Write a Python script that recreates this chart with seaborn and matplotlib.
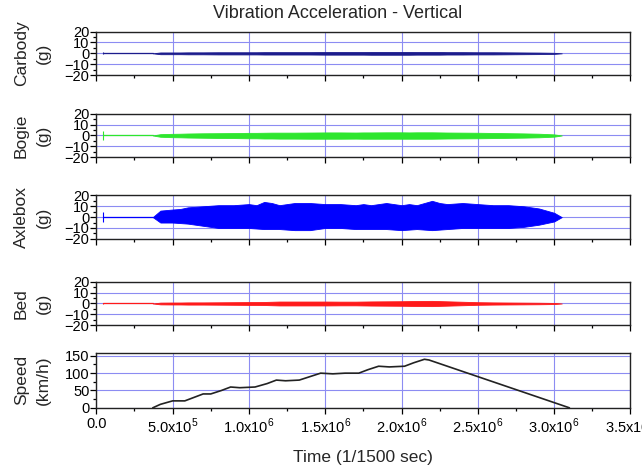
import numpy as np
import pandas as pd
import seaborn as sns
import matplotlib.pyplot as plt
from matplotlib.ticker import FuncFormatter, MultipleLocator

# envelope sample times (samples, 1/1500 s)
env_t = [3.7e5, 4.2e5, 5.0e5, 5.5e5, 6.0e5, 7.0e5, 8.0e5, 9.0e5, 1.0e6, 1.05e6,
         1.1e6, 1.15e6, 1.2e6, 1.3e6, 1.4e6, 1.5e6, 1.6e6, 1.7e6, 1.75e6, 1.8e6,
         1.9e6, 2.0e6, 2.05e6, 2.1e6, 2.2e6, 2.25e6, 2.3e6, 2.4e6, 2.5e6, 2.6e6,
         2.7e6, 2.8e6, 2.9e6, 3.0e6, 3.05e6]

# peak envelopes (g)
carbody_hi = [0, 0.8, 0.8, 0.8, 0.9, 0.9, 1.0, 1.0, 1.0, 1.0, 1.1, 1.1, 1.1, 1.1, 1.1,
              1.2, 1.2, 1.2, 1.2, 1.3, 1.3, 1.3, 1.3, 1.2, 1.2, 1.2, 1.1, 1.1, 1.0, 1.0,
              0.9, 0.8, 0.7, 0.5, 0]
carbody_lo = [-v for v in carbody_hi]

bogie_hi = [0, 1.2, 1.5, 1.6, 1.8, 2.0, 2.1, 2.2, 2.4, 2.4, 2.5, 2.6, 2.6, 2.6, 2.7,
            2.8, 2.8, 2.7, 2.8, 2.8, 2.9, 2.9, 2.8, 2.9, 2.9, 2.8, 2.7, 2.6, 2.5, 2.3,
            2.1, 1.9, 1.6, 1.0, 0]
bogie_lo = [0, -1.2, -1.6, -1.7, -1.9, -2.1, -2.3, -2.4, -2.6, -2.6, -2.8, -2.8, -2.9,
            -2.9, -3.0, -3.0, -3.0, -2.9, -3.0, -3.0, -3.0, -3.0, -3.0, -3.0, -3.0, -2.9,
            -2.8, -2.7, -2.6, -2.4, -2.2, -2.0, -1.7, -1.1, 0]

axlebox_hi = [0, 6, 7, 7.5, 9, 10, 11, 11, 12, 11, 14, 13, 11, 13, 13, 12, 12, 11, 12,
              11, 13, 11, 12, 11, 15, 13, 12, 13, 12, 11, 11, 10, 8, 4, 0]
axlebox_lo = [0, -5, -5, -5.5, -6, -8, -10, -10, -10, -10.5, -11, -11, -11, -12, -12,
              -10, -10, -11, -11, -11, -11, -12, -11.5, -11, -12, -11.5, -11, -10, -10,
              -10, -10, -9, -7, -4, 0]

bed_hi = [0, 0.8, 0.9, 0.9, 1.0, 1.0, 1.1, 1.2, 1.3, 1.3, 1.4, 1.6, 1.8, 1.8, 1.8,
          1.8, 1.7, 1.7, 1.8, 1.9, 2.0, 2.1, 2.2, 2.3, 2.4, 2.2, 2.0, 1.6, 1.2, 1.0,
          0.9, 0.8, 0.7, 0.5, 0]
bed_lo = [-v for v in bed_hi]

# quiet lead-in before the run, with the short spike
idle_t = [4.6e4, 3.7e5]
spike_t = 4.6e4
spike_size = {"Carbody": 0.8, "Bogie": 4.0, "Axlebox": 4.5, "Bed": 0.8}

speed_t = [3.7e5, 4.2e5, 5.0e5, 5.8e5, 6.4e5, 7.0e5, 7.5e5, 8.2e5, 8.8e5, 9.4e5,
           1.04e6, 1.12e6, 1.18e6, 1.24e6, 1.33e6, 1.40e6, 1.47e6, 1.55e6, 1.63e6,
           1.72e6, 1.78e6, 1.85e6, 1.92e6, 2.02e6, 2.08e6, 2.15e6, 2.18e6, 3.10e6]
speed_v = [0, 10, 20, 20, 30, 40, 40, 50, 60, 58, 60, 70, 80, 78, 80, 90, 100, 98,
           100, 100, 110, 120, 118, 120, 130, 140, 138, 0]

panels = [
    ("Carbody\n(g)", carbody_hi, carbody_lo, "#1c1c8c"),
    ("Bogie\n(g)", bogie_hi, bogie_lo, "#2ee62e"),
    ("Axlebox\n(g)", axlebox_hi, axlebox_lo, "#0000ff"),
    ("Bed\n(g)", bed_hi, bed_lo, "#ff1a1a"),
]

sns.set_theme(style="ticks")
plt.rcParams["font.family"] = ["Liberation Sans", "DejaVu Sans"]
plt.rcParams["mathtext.fontset"] = "custom"
plt.rcParams["mathtext.rm"] = "Liberation Sans"

grid_color = "#8c8cf2"
label_x = -0.085


def sci_fmt(v, pos):
    if v == 0:
        return "0.0"
    e = int(np.floor(np.log10(abs(v)) + 1e-9))
    m = v / 10 ** e
    return r"%.1fx10$^{%d}$" % (m, e)


def style_axis(ax):
    ax.set_xlim(0, 3.5e6)
    ax.xaxis.set_major_locator(MultipleLocator(5e5))
    ax.xaxis.set_minor_locator(MultipleLocator(2.5e5))
    ax.grid(True, which="major", color=grid_color, linewidth=0.8)
    ax.tick_params(which="both", direction="out", colors="black", labelsize=10.5,
                   top=False, right=False)
    ax.tick_params(which="major", length=4, width=0.9)
    ax.tick_params(which="minor", length=2.5, width=0.9)
    ax.tick_params(axis="y", pad=1)
    for s in ax.spines.values():
        s.set_linewidth(1.0)
        s.set_color("#222222")
    ax.set_axisbelow(True)


fig = plt.figure(figsize=(6.42, 4.72), dpi=100)
left, width = 0.150, 0.832
bottoms = [0.841, 0.667, 0.494, 0.311]
height = 0.092

for (label, hi, lo, color), b in zip(panels, bottoms):
    ax = fig.add_axes([left, b, width, height])
    name = label.split("\n")[0]
    ax.fill_between(env_t, lo, hi, color=color, linewidth=0.6, edgecolor=color)
    ax.plot(idle_t, [0, 0], color=color, linewidth=0.9)
    ax.vlines(spike_t, -spike_size[name], spike_size[name], color=color, linewidth=0.8)
    ax.set_ylim(-20, 20)
    ax.yaxis.set_major_locator(MultipleLocator(10))
    ax.yaxis.set_minor_locator(MultipleLocator(5))
    style_axis(ax)
    ax.set_xticklabels([])
    ax.set_ylabel(label, fontsize=12.5, linespacing=1.6)
    ax.yaxis.set_label_coords(label_x, 0.5)

fig.text(338 / 642, 1 - 13 / 472, "Vibration Acceleration - Vertical",
         ha="center", va="center", fontsize=13)

ax = fig.add_axes([left, 0.136, width, 0.116])
speed = pd.DataFrame({"t": speed_t, "v": speed_v})
sns.lineplot(data=speed, x="t", y="v", ax=ax, color="#222222", linewidth=1.2)
ax.set_ylim(0, 158)
ax.yaxis.set_major_locator(MultipleLocator(50))
ax.yaxis.set_minor_locator(MultipleLocator(25))
style_axis(ax)
ax.xaxis.set_major_formatter(FuncFormatter(sci_fmt))
ax.tick_params(axis="x", pad=2.5)
ax.set_ylabel("Speed\n(km/h)", fontsize=12.5, linespacing=1.6)
ax.yaxis.set_label_coords(label_x, 0.5)
ax.set_xlabel("Time (1/1500 sec)", fontsize=12.5, labelpad=10)

fig.savefig("out.png", dpi=100)
